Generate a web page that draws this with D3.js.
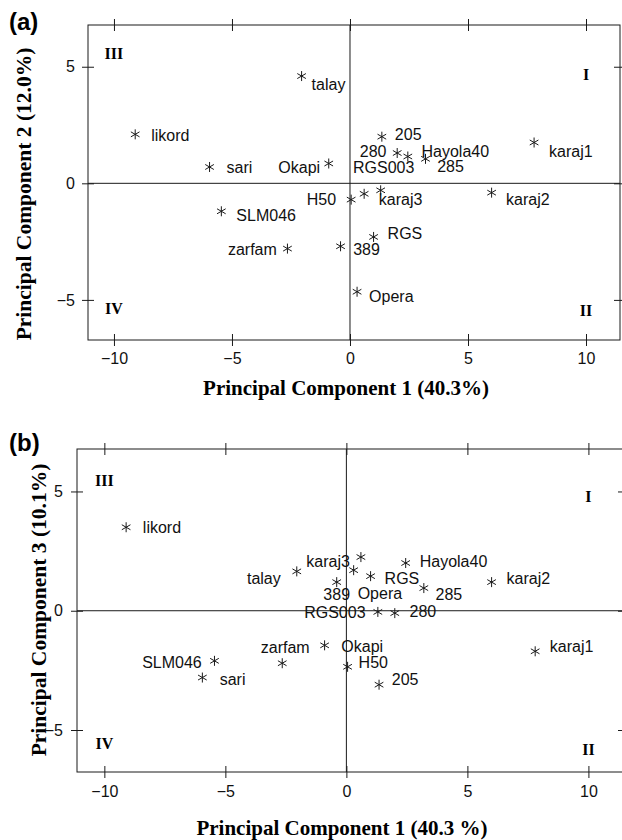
<!DOCTYPE html>
<html>
<head>
<meta charset="utf-8">
<script src="https://cdn.jsdelivr.net/npm/d3@7"></script>
<style>
  body { margin: 0; background: #fff; }
  svg { display: block; }
</style>
</head>
<body>
<div id="canvas"></div>
<script>
"use strict"

/* Canvas size */
let svgWidth = 622;
let svgHeight = 840;

/* Genotypes and their scores on the first three principal components */
let genotypes = ["likord", "sari", "talay", "Okapi", "205", "280", "Hayola40", "RGS003", "285",
    "karaj1", "H50", "karaj3", "karaj2", "RGS", "389", "Opera", "SLM046", "zarfam"];
let pc1 = [-9.1, -5.95, -2.05, -0.9, 1.35, 2.0, 2.45, 1.3, 3.2, 7.8, 0.05, 0.6, 6.0, 1.0, -0.4, 0.3, -5.45, -2.65];
let pc2 = [2.1, 0.7, 4.6, 0.85, 2.0, 1.3, 1.15, -0.3, 1.05, 1.75, -0.7, -0.45, -0.4, -2.3, -2.7, -4.65, -1.2, -2.8];
let pc3 = [3.5, -2.8, 1.65, -1.45, -3.1, -0.1, 2.0, -0.05, 0.95, -1.7, -2.35, 2.25, 1.2, 1.45, 1.2, 1.7, -2.1, -2.2];

/* Tick values */
let xTicks = [-10, -5, 0, 5, 10];
let yTicks = [-5, 0, 5];

/* Quadrant numerals and where they sit (data units) */
let quadrants = ["I", "II", "III", "IV"];
let quadX = [10, 10, -10, -10];
let quadYa = [4.65, -5.45, 5.55, -5.35];
let quadYb = [4.8, -5.8, 5.45, -5.55];

/* Label placement, per genotype: [dx, dy, anchor] in pixels from the star */
let labelPosA = [[16, 6.4, "start"], [17, 5.6, "start"], [10, 14, "start"], [-8.6, 10, "end"],
    [13, 3.3, "start"], [-10.7, 4, "end"], [13.7, 0, "start"], [-27.7, -17.7, "start"],
    [11.7, 13, "start"], [15, 14, "start"], [-15, 5, "end"], [14.7, 11, "start"],
    [14.4, 12.3, "start"], [14, 1.7, "start"], [12.6, 8.3, "start"], [12, 10, "start"],
    [15, 10, "start"], [-10.6, 6.7, "end"]];
let labelPosB = [[16.7, 5.4, "start"], [17.3, 7.7, "start"], [-16, 12.3, "end"], [16.7, 6.7, "start"],
    [12.7, 0, "start"], [14.7, 4, "start"], [14, 4, "start"], [-12.3, 5.6, "end"],
    [11.7, 11.7, "start"], [14.7, 1, "start"], [11, 1.6, "start"], [-11, 10, "end"],
    [15, 2, "start"], [14, 7.6, "start"], [0, 17.7, "middle"], [4, 29.3, "start"],
    [-12.7, 7.3, "end"], [3, -10.4, "middle"]];

let svg = d3.select("#canvas")
    .append("svg")
    .attr("width", svgWidth)
    .attr("height", svgHeight);

let sansFont = "'Liberation Sans', Arial, sans-serif";
let serifFont = "'Liberation Serif', 'Times New Roman', serif";
let ink = "#1a1a1a";

function drawPanel(p) {
    let xScale = d3.scaleLinear().domain(p.xDomain).range([p.left, p.right]);
    let yScale = d3.scaleLinear().domain(p.yDomain).range([p.bottom, p.top]);

    /* Panel letter */
    svg.append("text")
        .attr("x", 9)
        .attr("y", p.letterY)
        .attr("font-family", sansFont)
        .attr("font-weight", "bold")
        .attr("font-size", 24)
        .text(p.letter);

    /* Axes: ticks cross the frame, labels only bottom and left */
    let bottomAxis = svg.append("g")
        .attr("transform", "translate(0," + (p.bottom - 6) + ")")
        .call(d3.axisBottom(xScale).tickValues(xTicks).tickSize(12).tickPadding(p.xPad));
    let leftAxis = svg.append("g")
        .attr("transform", "translate(" + (p.left + 6) + ",0)")
        .call(d3.axisLeft(yScale).tickValues(yTicks).tickSize(12).tickPadding(p.yPad));
    let topAxis = svg.append("g")
        .attr("transform", "translate(0," + (p.top + 6) + ")")
        .call(d3.axisTop(xScale).tickValues(xTicks).tickSize(12).tickFormat(""));
    let rightAxis = svg.append("g")
        .attr("transform", "translate(" + (p.right - 6) + ",0)")
        .call(d3.axisRight(yScale).tickValues(yTicks).tickSize(12).tickFormat(""));

    for (let ax of [bottomAxis, leftAxis, topAxis, rightAxis]) {
        ax.select(".domain").remove();
        ax.selectAll("line").attr("stroke", ink);
        ax.selectAll("text")
            .attr("font-family", sansFont)
            .attr("font-size", 16)
            .attr("fill", "#111");
    }

    /* Frame */
    svg.append("rect")
        .attr("x", p.left)
        .attr("y", p.top)
        .attr("width", p.right - p.left)
        .attr("height", p.bottom - p.top)
        .attr("fill", "none")
        .attr("stroke", ink);

    /* Zero lines */
    svg.append("line")
        .attr("x1", xScale(0)).attr("x2", xScale(0))
        .attr("y1", p.top).attr("y2", p.bottom)
        .attr("stroke", ink);
    svg.append("line")
        .attr("x1", p.left).attr("x2", p.right)
        .attr("y1", yScale(0)).attr("y2", yScale(0))
        .attr("stroke", ink);

    /* Quadrant numerals */
    for (let i = 0; i < quadrants.length; i++) {
        svg.append("text")
            .attr("x", xScale(quadX[i]))
            .attr("y", yScale(p.quadY[i]) + 5.5)
            .attr("text-anchor", "middle")
            .attr("font-family", serifFont)
            .attr("font-weight", "bold")
            .attr("font-size", 16)
            .text(quadrants[i]);
    }

    /* Genotype stars */
    let star = d3.symbol().type(d3.symbolAsterisk).size(70);
    svg.append("g")
        .selectAll("path")
        .data(genotypes)
        .join("path")
        .attr("d", star)
        .attr("transform", function (d, i) {
            return "translate(" + xScale(pc1[i]) + "," + yScale(p.ys[i]) + ")";
        })
        .attr("fill", "none")
        .attr("stroke", ink)
        .attr("stroke-width", 1);

    /* Genotype labels */
    svg.append("g")
        .selectAll("text")
        .data(genotypes)
        .join("text")
        .attr("x", function (d, i) { return xScale(pc1[i]) + p.labels[i][0]; })
        .attr("y", function (d, i) { return yScale(p.ys[i]) + p.labels[i][1]; })
        .attr("text-anchor", function (d, i) { return p.labels[i][2]; })
        .attr("font-family", sansFont)
        .attr("font-size", 16)
        .attr("fill", "#111")
        .text(function (d) { return d; });

    /* Axis titles */
    svg.append("text")
        .attr("x", p.xTitleX)
        .attr("y", p.xTitleY)
        .attr("text-anchor", "middle")
        .attr("font-family", serifFont)
        .attr("font-weight", "bold")
        .attr("font-size", 21)
        .text(p.xTitle);

    svg.append("text")
        .attr("transform", "translate(" + p.yTitleX + "," + p.yTitleY + ") rotate(-90)")
        .attr("text-anchor", "middle")
        .attr("font-family", serifFont)
        .attr("font-weight", "bold")
        .attr("font-size", 21.5)
        .text(p.yTitle);
}

drawPanel({
    letter: "(a)", letterY: 30,
    left: 88, right: 620, top: 25, bottom: 340,
    xDomain: [-11.1, 11.44], yDomain: [-6.72, 6.79],
    xPad: 7, yPad: 7,
    ys: pc2, labels: labelPosA, quadY: quadYa,
    xTitle: "Principal Component 1 (40.3%)", xTitleX: 346, xTitleY: 395,
    yTitle: "Principal Component 2 (12.0%)", yTitleX: 31, yTitleY: 194
});

drawPanel({
    letter: "(b)", letterY: 451,
    left: 77, right: 624, top: 449, bottom: 772,
    xDomain: [-11.13, 11.47], yDomain: [-6.76, 6.78],
    xPad: 7.6, yPad: 8,
    ys: pc3, labels: labelPosB, quadY: quadYb,
    xTitle: "Principal Component 1 (40.3 %)", xTitleX: 342, xTitleY: 835,
    yTitle: "Principal Component 3 (10.1%)", yTitleX: 46, yTitleY: 610
});
</script>
</body>
</html>
